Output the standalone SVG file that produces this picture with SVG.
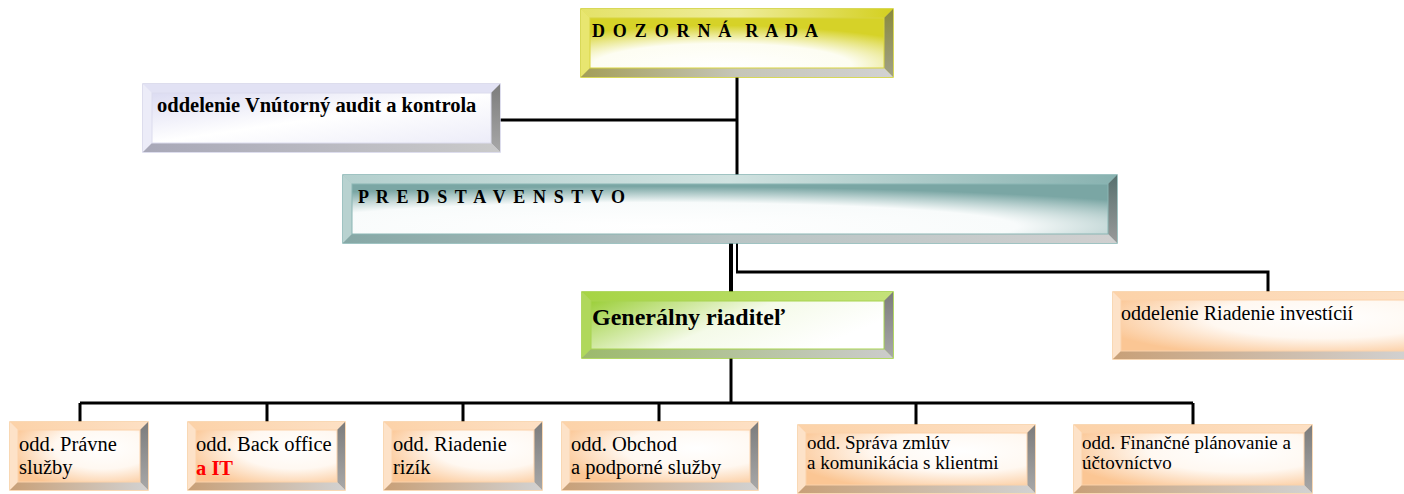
<svg xmlns="http://www.w3.org/2000/svg" width="1404" height="494" viewBox="0 0 1404 494">
<defs>
<style>
.t{font-family:"Liberation Serif","Times New Roman",serif;fill:#000}
.b{font-weight:bold}
.ln{stroke:#000;stroke-width:3;fill:none}
.rb{fill:url(#rightG)}
</style>
<linearGradient id="rightG" x1="0" y1="0" x2="0" y2="1"><stop offset="0" stop-color="#7c7c7c"/><stop offset="1" stop-color="#a8a8a8"/></linearGradient>
<radialGradient id="yFace" cx="0.45" cy="0.95" r="0.8" fx="0.45" fy="0.95"><stop offset="0" stop-color="#ffffff"/><stop offset="0.55" stop-color="#fdfdf2"/><stop offset="1" stop-color="#d6d228"/></radialGradient>
<linearGradient id="yTop" x1="0" y1="0" x2="1" y2="0"><stop offset="0" stop-color="#e4e268"/><stop offset="0.5" stop-color="#eeec9a"/><stop offset="1" stop-color="#d4d020"/></linearGradient>
<linearGradient id="yBot" x1="0" y1="0" x2="1" y2="0"><stop offset="0" stop-color="#a39e58"/><stop offset="0.5" stop-color="#c6c6b8"/><stop offset="1" stop-color="#d2d2d2"/></linearGradient>
<linearGradient id="yRight" x1="0" y1="0" x2="0" y2="1"><stop offset="0" stop-color="#8a8a3c"/><stop offset="1" stop-color="#a0a088"/></linearGradient>
<radialGradient id="tFace" cx="0.4" cy="0.85" r="0.8"><stop offset="0" stop-color="#ffffff"/><stop offset="0.6" stop-color="#f8fbfb"/><stop offset="1" stop-color="#7aa6a4"/></radialGradient>
<linearGradient id="tTop" x1="0" y1="0" x2="1" y2="0"><stop offset="0" stop-color="#b4d0ce"/><stop offset="0.5" stop-color="#d0e2e0"/><stop offset="1" stop-color="#88b2b0"/></linearGradient>
<linearGradient id="tBot" x1="0" y1="0" x2="1" y2="0"><stop offset="0" stop-color="#86a8a6"/><stop offset="0.5" stop-color="#b8c4c4"/><stop offset="1" stop-color="#d0d0d0"/></linearGradient>
<linearGradient id="tRight" x1="0" y1="0" x2="0" y2="1"><stop offset="0" stop-color="#56706e"/><stop offset="1" stop-color="#9a9a9a"/></linearGradient>
<linearGradient id="lFace" x1="0" y1="0" x2="1" y2="1"><stop offset="0" stop-color="#dcdcf2"/><stop offset="0.5" stop-color="#ffffff"/><stop offset="1" stop-color="#ececf8"/></linearGradient>
<linearGradient id="lBot" x1="0" y1="0" x2="1" y2="0"><stop offset="0" stop-color="#a8a8b8"/><stop offset="1" stop-color="#cacaca"/></linearGradient>
<linearGradient id="gFace" x1="0" y1="0" x2="1" y2="0.4"><stop offset="0" stop-color="#9ccf3a"/><stop offset="0.55" stop-color="#f4fae8"/><stop offset="1" stop-color="#ffffff"/></linearGradient>
<linearGradient id="gTop" x1="0" y1="0" x2="1" y2="0"><stop offset="0" stop-color="#a6d444"/><stop offset="1" stop-color="#c4e27a"/></linearGradient>
<linearGradient id="gBot" x1="0" y1="0" x2="1" y2="0"><stop offset="0" stop-color="#9cba6c"/><stop offset="1" stop-color="#cccccc"/></linearGradient>
<radialGradient id="oFace" cx="0.7" cy="0.35" r="0.8"><stop offset="0" stop-color="#ffffff"/><stop offset="0.5" stop-color="#fff8f1"/><stop offset="1" stop-color="#fbc694"/></radialGradient>
<linearGradient id="oTop" x1="0" y1="0" x2="1" y2="0"><stop offset="0" stop-color="#fcd2a8"/><stop offset="1" stop-color="#fde0c4"/></linearGradient>
<linearGradient id="oBot" x1="0" y1="0" x2="1" y2="0"><stop offset="0" stop-color="#c8a078"/><stop offset="1" stop-color="#d2d2d2"/></linearGradient>
</defs>
<rect width="1404" height="494" fill="#ffffff"/>

<g id="connectors">
<path class="ln" d="M737,77 V175"/>
<path class="ln" d="M500,120 H737"/>
<path class="ln" d="M731,243 V292" style="stroke-width:4"/>
<path class="ln" d="M737,243 V272" style="stroke-width:2"/>
<path class="ln" d="M736,272 H1268 V292"/>
<path class="ln" d="M731,358 V403"/>
<path class="ln" d="M80,403 H1193"/>
<path class="ln" d="M80,403 V422 M267,403 V422 M463,403 V422 M659,403 V422 M916,403 V425 M1193,403 V425"/>
</g>

<g id="dozorna-rada">
<rect x="581" y="9" width="312" height="68" fill="#e0de50" stroke="#cccc22" stroke-width="1.5"/>
<path d="M581,9 H893 L884,18 H590 Z" fill="url(#yTop)"/>
<path d="M581,9 L590,18 V68 L581,77 Z" fill="#e8e670"/>
<path d="M893,9 V77 L884,68 V18 Z" fill="url(#yRight)"/>
<path d="M581,77 H893 L884,68 H590 Z" fill="url(#yBot)"/>
<rect x="590" y="18" width="294" height="50" fill="url(#yFace)" stroke="#d8d440" stroke-width="1"/>
<text class="t b" x="592" y="37" font-size="18" xml:space="preserve" textLength="226" lengthAdjust="spacing">D O Z O R N Á  R A D A</text>
</g>

<g id="audit">
<rect x="143" y="84" width="357" height="68" fill="#e4e4f4" stroke="#d2d2e8" stroke-width="1.5"/>
<path d="M143,84 H500 L491,93 H152 Z" fill="#e2e2f4"/>
<path d="M143,84 L152,93 V143 L143,152 Z" fill="#ececf8"/>
<path d="M500,84 V152 L491,143 V93 Z" class="rb"/>
<path d="M143,152 H500 L491,143 H152 Z" fill="url(#lBot)"/>
<rect x="152" y="93" width="339" height="50" fill="url(#lFace)" stroke="#dcdcee" stroke-width="1"/>
<text class="t b" x="157" y="112" font-size="20.5">oddelenie Vnútorný audit a kontrola</text>
</g>

<g id="predstavenstvo">
<rect x="343" y="175" width="774" height="68" fill="#a8c8c6" stroke="#80b0ae" stroke-width="1.5"/>
<path d="M343,175 H1117 L1108,184 H352 Z" fill="url(#tTop)"/>
<path d="M343,175 L352,184 V234 L343,243 Z" fill="#b8d2d0"/>
<path d="M1117,175 V243 L1108,234 V184 Z" fill="url(#tRight)"/>
<path d="M343,243 H1117 L1108,234 H352 Z" fill="url(#tBot)"/>
<rect x="352" y="184" width="756" height="50" fill="url(#tFace)" stroke="#8ab6b4" stroke-width="1"/>
<text class="t b" x="358" y="203" font-size="18" textLength="267" lengthAdjust="spacing">P R E D S T A V E N S T V O</text>
</g>

<g id="generalny-riaditel">
<rect x="582" y="292" width="311" height="66" fill="#b4da66" stroke="#99cc33" stroke-width="1.5"/>
<path d="M582,292 H893 L884,301 H591 Z" fill="url(#gTop)"/>
<path d="M582,292 L591,301 V349 L582,358 Z" fill="#b0d85c"/>
<path d="M893,292 V358 L884,349 V301 Z" class="rb"/>
<path d="M582,358 H893 L884,349 H591 Z" fill="url(#gBot)"/>
<rect x="591" y="301" width="293" height="48" fill="url(#gFace)" stroke="#a8d450" stroke-width="1"/>
<text class="t b" x="592" y="325" font-size="24">Generálny riaditeľ</text>
</g>

<g id="riadenie-investicii">
<rect x="1113" y="292" width="300" height="67" fill="#fcd8b4" stroke="#f8cc9c" stroke-width="1.5"/>
<path d="M1113,292 H1413 L1405,300 H1121 Z" fill="url(#oTop)"/>
<path d="M1113,292 L1121,300 V351 L1113,359 Z" fill="#fde2c8"/>
<path d="M1113,359 H1413 L1405,351 H1121 Z" fill="url(#oBot)"/>
<rect x="1121" y="300" width="290" height="51" fill="url(#oFace)" stroke="#fbd2aa" stroke-width="1"/>
<text class="t" x="1121" y="320" font-size="20">oddelenie Riadenie investícií</text>
</g>

<g id="pravne-sluzby">
<rect x="10" y="422" width="138" height="68" fill="#fcd8b4" stroke="#f8cc9c" stroke-width="1.5"/>
<path d="M10,422 H148 L140,430 H18 Z" fill="url(#oTop)"/>
<path d="M10,422 L18,430 V482 L10,490 Z" fill="#fde2c8"/>
<path d="M148,422 V490 L140,482 V430 Z" class="rb"/>
<path d="M10,490 H148 L140,482 H18 Z" fill="url(#oBot)"/>
<rect x="18" y="430" width="122" height="52" fill="url(#oFace)" stroke="#fbd2aa" stroke-width="1"/>
<text class="t" x="19" y="451" font-size="20.5">odd. Právne</text>
<text class="t" x="19" y="474" font-size="20.5">služby</text>
</g>

<g id="back-office">
<rect x="188" y="422" width="157" height="68" fill="#fcd8b4" stroke="#f8cc9c" stroke-width="1.5"/>
<path d="M188,422 H345 L337,430 H196 Z" fill="url(#oTop)"/>
<path d="M188,422 L196,430 V482 L188,490 Z" fill="#fde2c8"/>
<path d="M345,422 V490 L337,482 V430 Z" class="rb"/>
<path d="M188,490 H345 L337,482 H196 Z" fill="url(#oBot)"/>
<rect x="196" y="430" width="141" height="52" fill="url(#oFace)" stroke="#fbd2aa" stroke-width="1"/>
<text class="t" x="196" y="451" font-size="20.5">odd. Back office</text>
<text class="t b" x="196" y="475" font-size="20.5" style="fill:#ff0000">a IT</text>
</g>

<g id="riadenie-rizik">
<rect x="384" y="422" width="158" height="68" fill="#fcd8b4" stroke="#f8cc9c" stroke-width="1.5"/>
<path d="M384,422 H542 L534,430 H392 Z" fill="url(#oTop)"/>
<path d="M384,422 L392,430 V482 L384,490 Z" fill="#fde2c8"/>
<path d="M542,422 V490 L534,482 V430 Z" class="rb"/>
<path d="M384,490 H542 L534,482 H392 Z" fill="url(#oBot)"/>
<rect x="392" y="430" width="142" height="52" fill="url(#oFace)" stroke="#fbd2aa" stroke-width="1"/>
<text class="t" x="393" y="451" font-size="20.5">odd. Riadenie</text>
<text class="t" x="393" y="474" font-size="20.5">rizík</text>
</g>

<g id="obchod">
<rect x="562" y="422" width="196" height="68" fill="#fcd8b4" stroke="#f8cc9c" stroke-width="1.5"/>
<path d="M562,422 H758 L750,430 H570 Z" fill="url(#oTop)"/>
<path d="M562,422 L570,430 V482 L562,490 Z" fill="#fde2c8"/>
<path d="M758,422 V490 L750,482 V430 Z" class="rb"/>
<path d="M562,490 H758 L750,482 H570 Z" fill="url(#oBot)"/>
<rect x="570" y="430" width="180" height="52" fill="url(#oFace)" stroke="#fbd2aa" stroke-width="1"/>
<text class="t" x="571" y="451" font-size="20.5">odd. Obchod</text>
<text class="t" x="571" y="474" font-size="20.5">a podporné služby</text>
</g>

<g id="sprava-zmluv">
<rect x="798" y="425" width="237" height="68" fill="#fcd8b4" stroke="#f8cc9c" stroke-width="1.5"/>
<path d="M798,425 H1035 L1027,433 H806 Z" fill="url(#oTop)"/>
<path d="M798,425 L806,433 V485 L798,493 Z" fill="#fde2c8"/>
<path d="M1035,425 V493 L1027,485 V433 Z" class="rb"/>
<path d="M798,493 H1035 L1027,485 H806 Z" fill="url(#oBot)"/>
<rect x="806" y="433" width="221" height="52" fill="url(#oFace)" stroke="#fbd2aa" stroke-width="1"/>
<text class="t" x="807" y="449" font-size="19">odd. Správa zmlúv</text>
<text class="t" x="807" y="469" font-size="19">a komunikácia s klientmi</text>
</g>

<g id="financne-planovanie">
<rect x="1074" y="425" width="238" height="68" fill="#fcd8b4" stroke="#f8cc9c" stroke-width="1.5"/>
<path d="M1074,425 H1312 L1304,433 H1082 Z" fill="url(#oTop)"/>
<path d="M1074,425 L1082,433 V485 L1074,493 Z" fill="#fde2c8"/>
<path d="M1312,425 V493 L1304,485 V433 Z" class="rb"/>
<path d="M1074,493 H1312 L1304,485 H1082 Z" fill="url(#oBot)"/>
<rect x="1082" y="433" width="222" height="52" fill="url(#oFace)" stroke="#fbd2aa" stroke-width="1"/>
<text class="t" x="1082" y="449" font-size="19">odd. Finančné plánovanie a</text>
<text class="t" x="1082" y="469" font-size="19">účtovníctvo</text>
</g>
</svg>
